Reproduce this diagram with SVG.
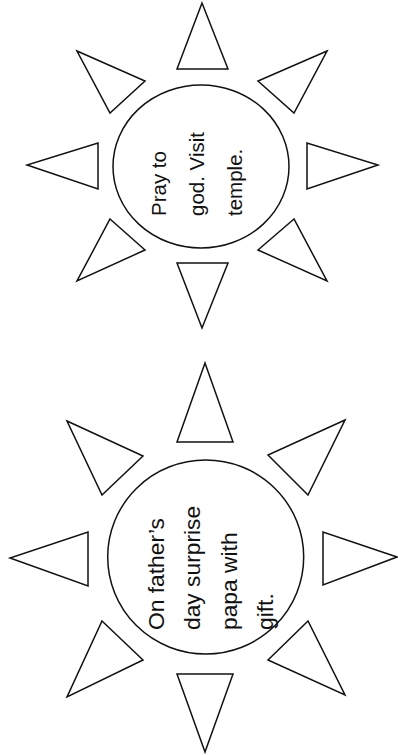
<svg xmlns="http://www.w3.org/2000/svg" width="398" height="755" viewBox="0 0 398 755">
<style>
.s{fill:none;stroke:#111;stroke-width:1.5;stroke-linejoin:miter}
.t{font-family:"Liberation Sans",Arial,sans-serif;fill:#111}
</style>
<rect width="398" height="755" fill="#fff"/>
<g id="sun-top">
<g class="s">
<polygon points="202,3 177,69 228,69"/>
<polygon points="327,51 258,81 294,113"/>
<polygon points="307,143 307,189 378,165"/>
<polygon points="294,219 258,250 327,281"/>
<polygon points="177,263 228,263 202,328"/>
<polygon points="110,219 145,250 77,281"/>
<polygon points="98,143 98,189 27,165"/>
<polygon points="77,51 145,81 110,113"/>
<ellipse cx="201" cy="166.5" rx="88" ry="81.5"/>
</g>
<text class="t" font-size="20.5" transform="rotate(-90)"><tspan x="-216" y="166">Pray to</tspan><tspan x="-216" y="204">god. Visit</tspan><tspan x="-216" y="242">temple.</tspan></text>
</g>
<g id="sun-bottom">
<g class="s">
<polygon points="205,363 177,442 233,442"/>
<polygon points="345,420 268,455 308,495"/>
<polygon points="323,532 323,585 397,557"/>
<polygon points="308,621 268,660 345,695"/>
<polygon points="177,674 233,674 205,752"/>
<polygon points="102,621 143,660 67,697"/>
<polygon points="88,532 88,586 10,558"/>
<polygon points="67,421 143,456 102,495"/>
<ellipse cx="205.7" cy="557" rx="98" ry="97"/>
</g>
<text class="t" font-size="22.8" transform="rotate(-90)"><tspan x="-630" y="163.5">On father’s</tspan><tspan x="-630" y="200">day surprise</tspan><tspan x="-630" y="236.5">papa with</tspan><tspan x="-630" y="273">gift.</tspan></text>
</g>
</svg>
